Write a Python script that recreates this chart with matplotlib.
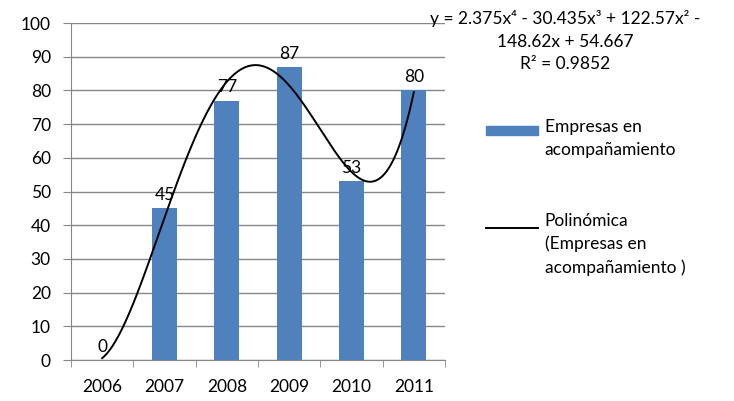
import numpy as np
import matplotlib
matplotlib.use("Agg")
import matplotlib.pyplot as plt
from matplotlib.patches import Rectangle
from matplotlib.lines import Line2D

plt.rcParams['font.family'] = ['Lato', 'DejaVu Sans']

years = ['2006', '2007', '2008', '2009', '2010', '2011']
empresas = [0, 45, 77, 87, 53, 80]
# polynomial trendline coefficients (x = 1..6), highest degree first
trend_coefs = [2.375, -30.435, 122.57, -148.62, 54.667]
r2 = 0.9852

bar_color = '#4F81BD'
grid_color = '#878787'
fs = 12.5

fig = plt.figure(figsize=(7.34, 4.01), dpi=100)
ax = fig.add_axes([0.0967, 0.1022, 0.5096, 0.8404])

xpos = np.arange(len(years))
ax.bar(xpos, empresas, width=0.4, color=bar_color, zorder=2)
for x, v in zip(xpos, empresas):
    ax.text(x, v + 1.5, str(v), ha='center', va='bottom', fontsize=fs)

# trendline over the category range
xt = np.linspace(1, 6, 300)
ax.plot(xt - 1, np.polyval(trend_coefs, xt), color='black', lw=1.4, zorder=3)

ax.set_xlim(-0.5, 5.5)
ax.set_ylim(0, 100)
ax.set_yticks(range(0, 101, 10))
ax.set_xticks(xpos)
ax.set_xticklabels(years)
ax.set_xticks(np.arange(-0.5, 6, 1), minor=True)
ax.tick_params(axis='x', which='major', length=0, pad=14, labelsize=fs)
ax.tick_params(axis='x', which='minor', length=5, color=grid_color)
ax.tick_params(axis='y', length=5.5, color=grid_color, labelsize=fs, pad=9)
ax.grid(axis='y', color=grid_color, lw=1, zorder=0)
for s in ['top', 'right']:
    ax.spines[s].set_visible(False)
for s in ['left', 'bottom']:
    ax.spines[s].set_color(grid_color)

# trendline equation
eq = ('y = 2.375x⁴ - 30.435x³ + 122.57x² -\n148.62x + 54.667\nR² = %.4f' % r2)
fig.text(0.770, 0.975, eq, ha='center', va='top', fontsize=fs,
         linespacing=1.5)

# legend
fig.patches.append(Rectangle((0.662, 0.664), 0.071, 0.023, color=bar_color,
                             transform=fig.transFigure, figure=fig))
fig.text(0.742, 0.702, 'Empresas en\nacompañamiento', ha='left', va='top',
         fontsize=fs, linespacing=1.5)
fig.lines.append(Line2D([0.662, 0.733], [0.431, 0.431], color='black', lw=1.4,
                        transform=fig.transFigure, figure=fig))
fig.text(0.742, 0.469, 'Polinómica\n(Empresas en\nacompañamiento )',
         ha='left', va='top', fontsize=fs, linespacing=1.5)

fig.savefig('out.png', dpi=100)
